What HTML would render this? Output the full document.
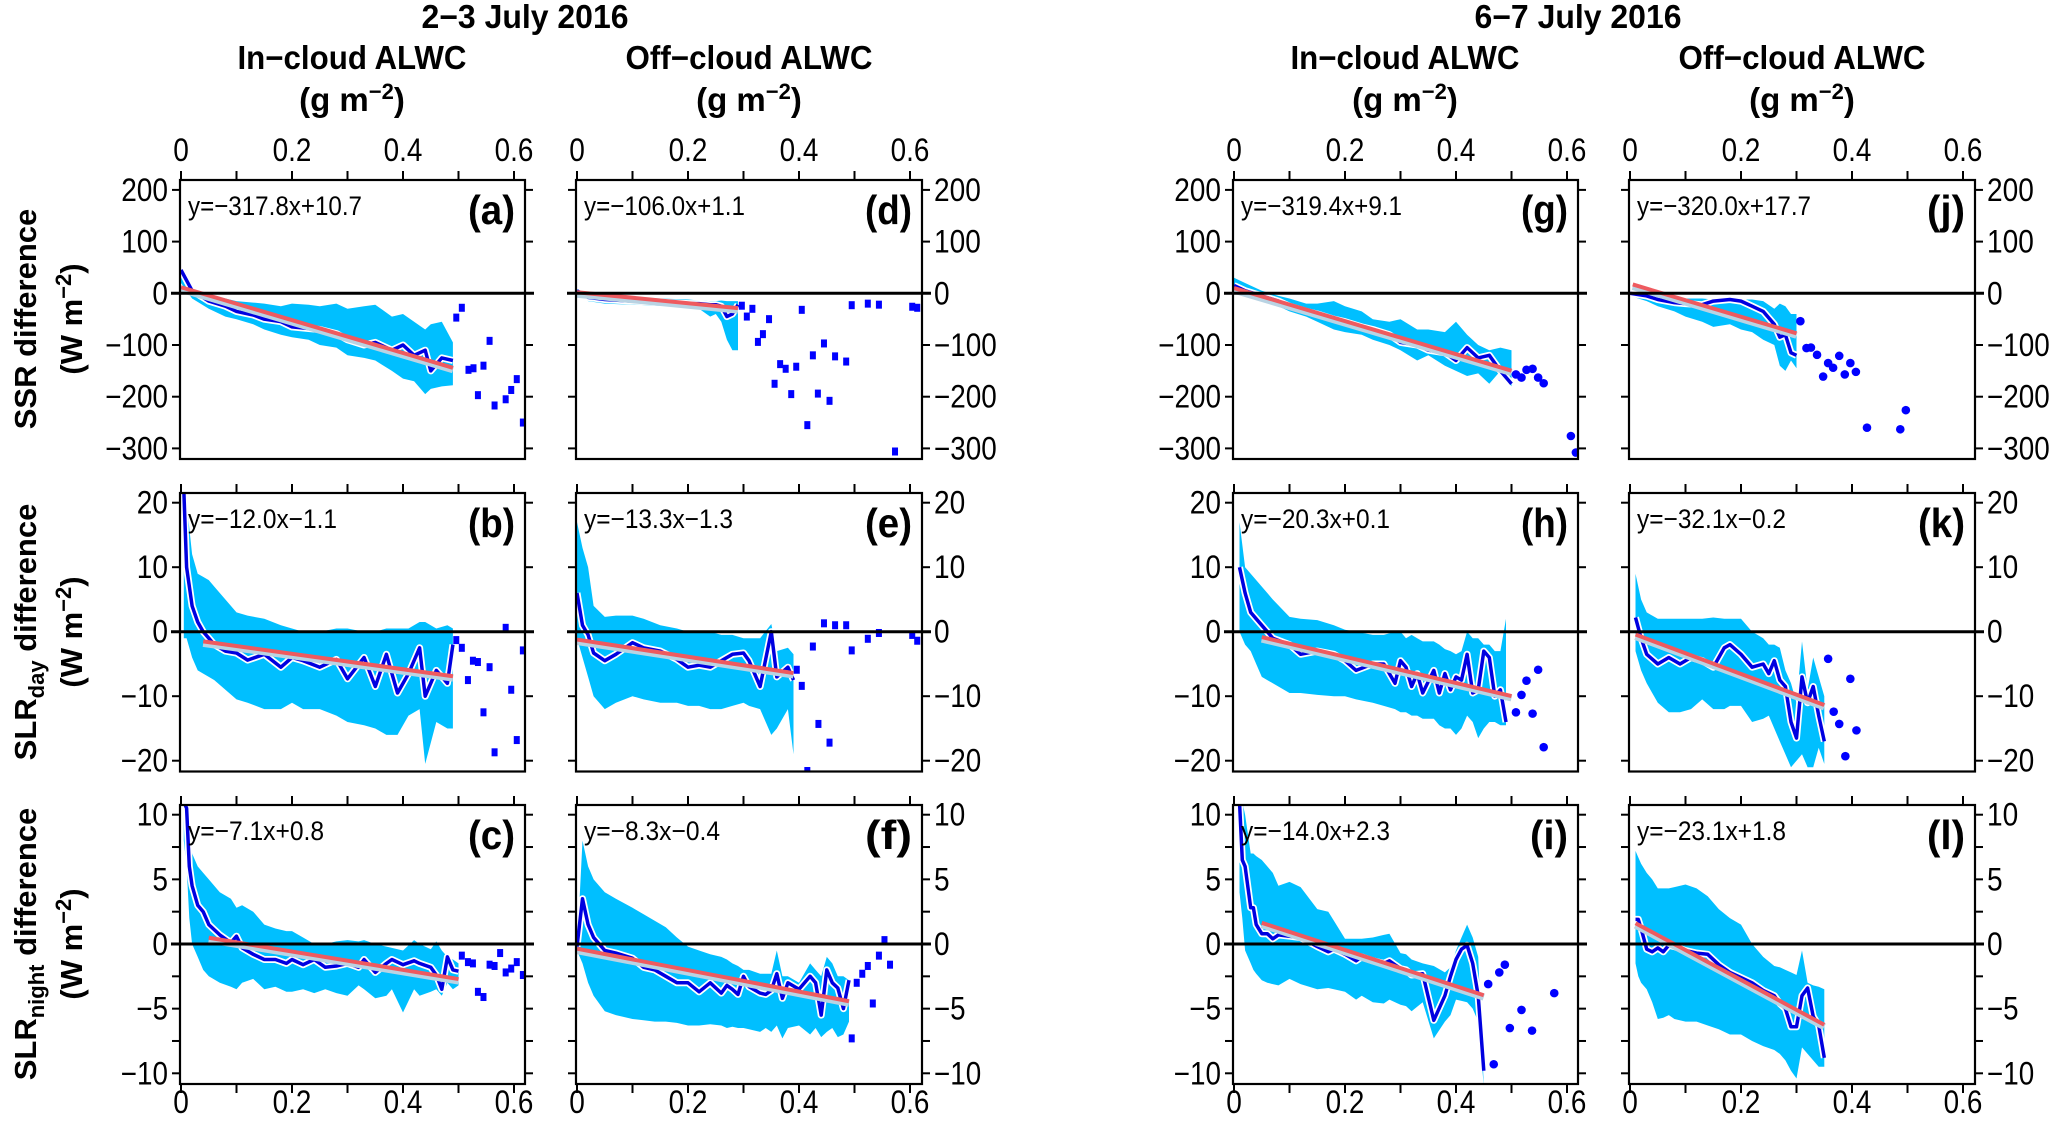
<!DOCTYPE html>
<html><head><meta charset="utf-8"><style>
html,body{margin:0;padding:0;background:#fff;}
svg{display:block;font-family:"Liberation Sans",Arial,sans-serif;}
</style></head><body>
<svg id="fig" width="2067" height="1127" viewBox="0 0 2067 1127" xmlns="http://www.w3.org/2000/svg">
<g font-weight="bold" font-size="33" text-anchor="middle">
<text x="525" y="28" textLength="207" lengthAdjust="spacingAndGlyphs">2−3 July 2016</text>
<text x="1578" y="28" textLength="207" lengthAdjust="spacingAndGlyphs">6−7 July 2016</text>
<text x="352" y="69" textLength="229" lengthAdjust="spacingAndGlyphs">In−cloud ALWC</text>
<text x="749" y="69" textLength="247" lengthAdjust="spacingAndGlyphs">Off−cloud ALWC</text>
<text x="1405" y="69" textLength="229" lengthAdjust="spacingAndGlyphs">In−cloud ALWC</text>
<text x="1802" y="69" textLength="247" lengthAdjust="spacingAndGlyphs">Off−cloud ALWC</text>
<text x="352" y="111">(g m<tspan dy="-12" font-size="22">−2</tspan><tspan dy="12">)</tspan></text>
<text x="749" y="111">(g m<tspan dy="-12" font-size="22">−2</tspan><tspan dy="12">)</tspan></text>
<text x="1405" y="111">(g m<tspan dy="-12" font-size="22">−2</tspan><tspan dy="12">)</tspan></text>
<text x="1802" y="111">(g m<tspan dy="-12" font-size="22">−2</tspan><tspan dy="12">)</tspan></text>
</g>
<g font-weight="bold" font-size="31" text-anchor="middle">
<text transform="translate(36,319) rotate(-90)">SSR difference</text>
<text transform="translate(82,319) rotate(-90)">(W m<tspan dy="-11" font-size="22">−2</tspan><tspan dy="11">)</tspan></text>
<text transform="translate(36,632) rotate(-90)">SLR<tspan dy="8" font-size="22">day</tspan><tspan dy="-8"> difference</tspan></text>
<text transform="translate(82,632) rotate(-90)">(W m<tspan dy="-11" font-size="22">−2</tspan><tspan dy="11">)</tspan></text>
<text transform="translate(36,944) rotate(-90)">SLR<tspan dy="8" font-size="22">night</tspan><tspan dy="-8"> difference</tspan></text>
<text transform="translate(82,944) rotate(-90)">(W m<tspan dy="-11" font-size="22">−2</tspan><tspan dy="11">)</tspan></text>
</g>
</svg>
<script>
// ---- data (x in g m-2, y in W m-2) ----
const a_x=[0,.02,.05,.08,.1,.13,.15,.18,.2,.23,.25,.28,.3,.33,.35,.38,.4,.42,.44,.45,.47,.49];
const a_mean=[45,5,-15,-25,-35,-42,-50,-55,-65,-68,-70,-78,-90,-100,-95,-110,-100,-120,-110,-150,-125,-130];
const a_hi=[45,10,-2,-10,-15,-18,-20,-25,-20,-22,-25,-20,-30,-25,-22,-45,-40,-55,-70,-60,-55,-95];
const a_lo=[20,-10,-30,-45,-50,-60,-70,-80,-85,-90,-100,-105,-120,-125,-130,-150,-165,-170,-195,-185,-180,-178];
const a_px=[.496,.506,.518,.527,.535,.545,.556,.565,.585,.595,.605,.616];
const a_py=[-47,-28,-148,-145,-197,-140,-92,-217,-205,-187,-166,-250];
const a_fit=[-317.8,10.7,0,0.49];

const d_x=[0,.02,.05,.1,.15,.2,.22,.24,.25,.26,.27,.28,.29];
const d_mean=[5,-8,-12,-15,-17,-20,-20,-22,-22,-25,-45,-40,-22];
const d_hi=[8,-3,-5,-8,-10,-12,-14,-15,-15,-14,-15,-15,-15];
const d_lo=[2,-15,-20,-22,-24,-27,-30,-45,-40,-55,-90,-110,-110];
const d_px=[.297,.306,.316,.326,.335,.346,.356,.366,.376,.386,.395,.405,.415,.425,.434,.445,.455,.465,.485,.495,.524,.544,.573,.604,.613];
const d_py=[-24,-45,-30,-94,-79,-50,-175,-137,-146,-195,-142,-32,-255,-120,-194,-97,-208,-122,-132,-23,-20,-22,-306,-26,-28];
const d_fit=[-106.0,1.1,0,0.29];

const g_x=[0,.02,.05,.08,.1,.13,.15,.18,.2,.23,.25,.28,.3,.33,.35,.38,.4,.42,.44,.46,.48,.5];
const g_mean=[15,5,-5,-15,-25,-35,-40,-50,-55,-65,-70,-80,-95,-100,-110,-115,-130,-105,-125,-120,-150,-175];
const g_hi=[30,20,5,-5,-10,-20,-20,-15,-25,-35,-50,-55,-50,-70,-70,-75,-55,-80,-100,-110,-105,-110];
const g_lo=[5,-5,-15,-25,-35,-45,-55,-70,-75,-80,-90,-100,-110,-130,-120,-140,-150,-160,-155,-175,-150,-180];
const g_px=[.508,.518,.527,.538,.548,.558,.607,.616];
const g_py=[-157,-163,-148,-146,-163,-174,-276,-308];
const g_fit=[-319.4,9.1,0,0.5];

const j_x=[0,.03,.05,.08,.1,.13,.15,.18,.2,.22,.24,.26,.27,.28,.29,.3];
const j_mean=[0,-5,-12,-18,-20,-22,-15,-12,-15,-25,-35,-60,-85,-80,-115,-120];
const j_hi=[0,-5,-8,-10,-10,-10,-12,-12,-12,-12,-15,-30,-20,-25,-40,-40];
const j_lo=[-5,-15,-25,-35,-45,-55,-65,-60,-70,-75,-90,-100,-140,-150,-130,-145];
const j_px=[.307,.318,.326,.337,.348,.357,.366,.377,.387,.397,.407,.427,.487,.497];
const j_py=[-54,-106,-105,-119,-161,-135,-144,-121,-157,-135,-152,-260,-263,-226];
const j_fit=[-320.0,17.7,0.005,0.3];

const b_x=[.005,.01,.02,.03,.04,.05,.06,.08,.1,.12,.15,.18,.2,.22,.25,.28,.3,.33,.35,.37,.39,.41,.43,.44,.46,.48,.49];
const b_mean=[22,10,4,1.5,0,-1,-2,-3,-3.3,-4.4,-3.5,-5.5,-4,-4.5,-5.5,-4.3,-7.3,-4,-8.5,-3.5,-9.5,-6.5,-2.5,-10,-6,-8,-2];
const b_hi=[22,20,12,9,8.5,8,7,5,3,2.5,2,1,.5,0,0,.5,.5,0,0,.5,.5,.5,1.5,1.5,.5,1,.5];
const b_lo=[-1,-1,-4,-6,-6.5,-7,-7.5,-9,-10.5,-11,-12,-12,-11,-12,-12,-13,-14,-14.5,-15,-16,-16,-13,-12,-20.5,-14,-15,-15];
const b_px=[.496,.506,.517,.526,.535,.545,.556,.565,.585,.595,.605,.616];
const b_py=[-1.3,-2.5,-7.5,-4.5,-4.7,-12.5,-5.5,-18.7,.6,-9,-16.8,-2.9];
const b_fit=[-12.0,-1.1,0.04,0.49];

const e_x=[0,.01,.02,.03,.05,.07,.1,.12,.15,.18,.2,.22,.24,.26,.28,.3,.31,.33,.35,.36,.38,.39];
const e_mean=[6,1,-.5,-3.3,-4.5,-3.5,-1.7,-2.5,-3,-4.3,-5.5,-5.2,-5.5,-4.5,-3.5,-3.3,-4.5,-8.5,0,-7,-5.5,-7.5];
const e_hi=[17,13,10,4,2.3,2.5,2.5,2,1,.5,0,0,0,-.5,-.5,-1,-1,-1,1.2,-3,-2.5,-3.5];
const e_lo=[-1,-4,-7,-10,-12,-11,-10,-10.5,-11,-11,-11.5,-11.5,-12,-12,-11.5,-11,-11.5,-12,-16,-15,-12,-19];
const e_px=[.396,.405,.415,.425,.435,.445,.455,.465,.485,.495,.524,.544,.604,.613];
const e_py=[-5.9,-8.4,-21.6,-2.3,-14.3,1.3,-17.2,1.0,1.0,-2.9,-1.1,-.2,-.5,-1.4];
const e_fit=[-13.3,-1.3,0,0.39];

const h_x=[.01,.02,.03,.04,.05,.06,.07,.1,.12,.15,.18,.2,.22,.25,.27,.29,.3,.31,.32,.33,.34,.36,.37,.38,.39,.4,.41,.42,.43,.44,.45,.46,.47,.48,.49];
const h_mean=[10,6,3,2,1,0,-1,-2,-3.5,-3,-3.5,-4.5,-6,-5,-5,-8,-4.5,-5.5,-8.5,-6.5,-9.5,-6,-9.5,-6.5,-9,-7,-7.5,-3.5,-9.5,-9,-3,-4,-10,-9,-14];
const h_hi=[17,10,9,8,7,6,5,2.3,2,1.8,1,.3,0,-.5,-.5,0,0,-1,-.5,-1,-1.5,-1.5,-2,-2.7,-3,-3.5,-3,0,-1,-1,-2,-2,-3,-3,2];
const h_lo=[0,-2,-3,-5,-7,-7.5,-8,-9.5,-9.5,-9.8,-10,-10,-10.5,-11,-11.5,-12,-12.5,-12.5,-13,-13,-13.5,-13.5,-14.5,-15,-15,-16,-15,-13,-14,-16.5,-15,-14,-14,-14.5,-14.5];
const h_px=[.508,.518,.527,.538,.548,.558];
const h_py=[-12.5,-9.8,-7.6,-12.7,-5.9,-17.9];
const h_fit=[-20.3,0.1,0.05,0.5];

const k_x=[.01,.02,.03,.05,.07,.09,.11,.13,.15,.17,.18,.2,.22,.24,.25,.26,.27,.28,.29,.3,.31,.32,.33,.34,.35];
const k_mean=[2.2,-1,-3.5,-5,-4,-5,-4,-4.5,-5.5,-2.5,-2,-3.5,-5.5,-5,-6.5,-4.5,-7.5,-8.5,-14,-16.5,-7,-11,-8.5,-13,-17];
const k_hi=[9,5,3,2,2,2,2,2,2.2,2,2,2,0,-1,-2,-2,-2.5,-6,-8,-11,-1.5,-9,-4,-7,-10];
const k_lo=[-3,-6,-8,-11,-12.5,-12.5,-12,-10.5,-12,-12,-11.5,-11.5,-14,-13.5,-13,-15,-17,-19,-21,-20,-19,-21,-21,-18,-20.5];
const k_px=[.357,.367,.377,.388,.397,.408];
const k_py=[-4.2,-12.4,-14.3,-19.3,-7.3,-15.3];
const k_fit=[-32.1,-0.2,0.01,0.35];

const c_x=[.005,.01,.015,.02,.03,.04,.05,.07,.09,.1,.11,.13,.15,.17,.19,.2,.22,.24,.26,.28,.3,.32,.33,.35,.37,.38,.4,.42,.43,.45,.46,.47,.48,.49,.5];
const c_mean=[11,10.5,6,4.5,3,2.5,1.5,.7,.1,.6,-.3,-.8,-1.2,-1.2,-1.5,-1.2,-1.6,-1.2,-1.8,-1.7,-1.5,-1.8,-1.2,-2.2,-1.5,-1.2,-1.6,-1.3,-1.5,-1.8,-2.4,-3.5,-1,-2,-2.1];
const c_hi=[11,11,9,7,6,5.5,5,4,3.5,2.8,3,2.5,1.5,1.2,1,1,.5,0,0,.2,.3,.2,.3,0,-.2,-.3,-.5,.3,0,-.4,.2,-.5,-1,-1.2,-1.5];
const c_lo=[8,6,2,0,-1,-2,-2.5,-3,-3.3,-3.5,-3,-2.7,-3.5,-3.3,-3.7,-3.7,-3.5,-3.8,-3.5,-3.8,-4,-3.2,-3.5,-4.2,-4,-3.5,-5.3,-3.5,-4,-3.7,-3.5,-4,-3,-3.5,-3.2];
const c_px=[.506,.517,.526,.535,.545,.556,.565,.575,.585,.595,.605,.616];
const c_py=[-.9,-1.4,-1.5,-3.7,-4.1,-1.6,-1.7,-.7,-2.2,-1.9,-1.4,-2.4];
const c_fit=[-7.1,0.8,0.05,0.5];

const f_x=[0,.01,.02,.03,.05,.07,.1,.12,.14,.16,.18,.2,.22,.24,.26,.27,.28,.29,.3,.31,.33,.34,.35,.36,.37,.38,.4,.42,.43,.44,.45,.46,.47,.48,.49];
const f_mean=[-.2,3.5,1.5,.5,-.5,-.7,-1.1,-1.8,-2,-2.5,-3,-3,-3.7,-3,-3.8,-3.2,-3.5,-3.9,-2.5,-3.3,-3.8,-3.9,-3.6,-2.3,-4.2,-3,-3.5,-2.5,-3,-5.5,-2,-3,-3.4,-5,-2.8];
const f_hi=[-.5,8,6,5,4,3.5,2.8,2.3,1.8,1.3,.5,-.2,-.5,-.8,-1,-1.2,-1.5,-1.7,-2,-2,-2.3,-2.3,-2.3,-.5,-2.5,-2.5,-3,-1.5,-2,-2.5,-1,-1.5,-2.5,-2.5,-2.8];
const f_lo=[-.5,-1.5,-3,-4,-5.2,-5.5,-5.8,-5.9,-6,-6,-6.1,-6.3,-6.3,-6.2,-6.3,-6.5,-6.4,-6.5,-6.5,-6.6,-6.8,-6.5,-6.8,-6.3,-7.3,-6.5,-6.3,-7,-6.5,-7.2,-6.8,-6.5,-7.2,-7,-6];
const f_px=[.495,.504,.514,.524,.533,.544,.554,.564];
const f_py=[-7.3,-3.0,-2.3,-1.7,-4.6,-.9,.3,-1.6];
const f_fit=[-8.3,-0.4,0,0.49];

const i_x=[.01,.015,.02,.03,.035,.04,.05,.06,.07,.08,.1,.12,.15,.17,.18,.2,.22,.23,.25,.27,.28,.3,.31,.32,.34,.36,.38,.39,.4,.41,.42,.43,.44,.45];
const i_mean=[11,6.5,6,2.8,2.8,1.5,.8,.8,.4,.7,.6,.5,-.2,-.6,-.4,-.8,-1.3,-1,-1.3,-1.5,-1.3,-1.9,-2,-2.4,-2.3,-5.9,-4,-2.5,-1.2,-.4,-.1,-1.5,-4,-9.8];
const i_hi=[11,11,10,7,7,6.8,6.5,6,5.5,4.5,4.8,4.4,2.7,2.5,1.8,.4,.4,.4,.5,.7,.8,-.7,-.8,-1.2,-1.5,-1.7,-2.2,-1.8,-.5,.5,1.5,.5,-1,-11];
const i_lo=[4,2,-.5,-1.5,-2,-2.3,-2.8,-3,-3.1,-3.2,-2.7,-3.1,-3.5,-3.4,-3.5,-3.7,-4.3,-4,-4.5,-4.6,-4.3,-4.7,-4.8,-5.2,-4.5,-7.3,-6,-5.5,-4.3,-4.4,-4.5,-5,-6,-11];
const i_px=[.458,.468,.478,.488,.497,.518,.537,.577];
const i_py=[-3.1,-9.3,-2.2,-1.6,-6.5,-5.1,-6.7,-3.8];
const i_fit=[-14.0,2.3,0.05,0.45];

const l_x=[.01,.015,.02,.03,.04,.05,.06,.07,.08,.1,.12,.14,.16,.18,.2,.22,.24,.26,.27,.28,.29,.3,.31,.32,.33,.34,.35];
const l_mean=[1.9,1.9,1.2,-.4,-.6,-.3,-.6,-.1,-.2,-.5,-.7,-.8,-1.6,-2.2,-2.6,-3,-3.6,-4,-4.6,-5,-6.4,-6.4,-4,-3.4,-5.6,-6.3,-8.8];
const l_hi=[7.2,6.7,6.2,5.5,5,4.3,4.3,4.3,4.4,4.6,4.3,3.7,2.7,2,1.5,0,-1,-1.7,-1.8,-2,-2.2,-2.4,-.5,-3,-3.2,-3.3,-3.5];
const l_lo=[-1.5,-2.5,-3,-3.5,-4.5,-5.8,-5.7,-5.5,-5.8,-6,-6,-6.3,-6.6,-7,-7,-7.5,-7.9,-8.2,-8.5,-9,-9.8,-10.4,-8,-8.5,-9,-9.5,-9.5];
const l_px=[];
const l_py=[];
const l_fit=[-23.1,1.8,0.01,0.35];

const xTicks=[0,0.1,0.2,0.3,0.4,0.5,0.6];
const xTickLabels=["0","0.2","0.4","0.6"];
const ssrTicks=[200,100,0,-100,-200,-300];
const dayTicks=[20,10,0,-10,-20];
const nightTicks=[10,7.5,5,2.5,0,-2.5,-5,-7.5,-10];
const nightLabels=[10,5,0,-5,-10];

// ---- layout ----
const COLS=[{l:180,r:525,x0:181,side:'L'},{l:576,r:922,x0:577,side:'R'},{l:1233,r:1578,x0:1234,side:'L'},{l:1629,r:1975,x0:1630,side:'R'}];
const ROWS=[{t:180,b:459,y0:293.3,k:0.517,ticks:ssrTicks,labels:ssrTicks},
            {t:493,b:771.5,y0:631.7,k:6.45,ticks:dayTicks,labels:dayTicks},
            {t:805,b:1084,y0:944,k:12.93,ticks:nightTicks,labels:nightLabels}];
const XK=555;
const NS='http://www.w3.org/2000/svg';
const svg=document.getElementById('fig');
function mk(tag,attrs,parent){const e=document.createElementNS(NS,tag);for(const k in attrs)e.setAttribute(k,attrs[k]);(parent||svg).appendChild(e);return e;}
function fmt(v){return (v<0?'−':'')+Math.abs(v);}
function tw(s){let w=0;for(const ch of s){w+=(ch==='.'?7.5:(ch==='−'?16:15.6));}return w.toFixed(1);}

const panels=[
 {id:'a',c:0,r:0,x:a_x,m:a_mean,hi:a_hi,lo:a_lo,px:a_px,py:a_py,fit:a_fit,sq:true},
 {id:'b',c:0,r:1,x:b_x,m:b_mean,hi:b_hi,lo:b_lo,px:b_px,py:b_py,fit:b_fit,sq:true},
 {id:'c',c:0,r:2,x:c_x,m:c_mean,hi:c_hi,lo:c_lo,px:c_px,py:c_py,fit:c_fit,sq:true},
 {id:'d',c:1,r:0,x:d_x,m:d_mean,hi:d_hi,lo:d_lo,px:d_px,py:d_py,fit:d_fit,sq:true},
 {id:'e',c:1,r:1,x:e_x,m:e_mean,hi:e_hi,lo:e_lo,px:e_px,py:e_py,fit:e_fit,sq:true},
 {id:'f',c:1,r:2,x:f_x,m:f_mean,hi:f_hi,lo:f_lo,px:f_px,py:f_py,fit:f_fit,sq:true},
 {id:'g',c:2,r:0,x:g_x,m:g_mean,hi:g_hi,lo:g_lo,px:g_px,py:g_py,fit:g_fit,sq:false},
 {id:'h',c:2,r:1,x:h_x,m:h_mean,hi:h_hi,lo:h_lo,px:h_px,py:h_py,fit:h_fit,sq:false},
 {id:'i',c:2,r:2,x:i_x,m:i_mean,hi:i_hi,lo:i_lo,px:i_px,py:i_py,fit:i_fit,sq:false},
 {id:'j',c:3,r:0,x:j_x,m:j_mean,hi:j_hi,lo:j_lo,px:j_px,py:j_py,fit:j_fit,sq:false},
 {id:'k',c:3,r:1,x:k_x,m:k_mean,hi:k_hi,lo:k_lo,px:k_px,py:k_py,fit:k_fit,sq:false},
 {id:'l',c:3,r:2,x:l_x,m:l_mean,hi:l_hi,lo:l_lo,px:l_px,py:l_py,fit:l_fit,sq:false}];

const defs=mk('defs',{});
panels.forEach(p=>{
  const C=COLS[p.c],R=ROWS[p.r];
  const X=v=>C.x0+v*XK, Y=v=>R.y0-v*R.k;
  const g=mk('g',{});
  
  
  const cp=mk('clipPath',{id:'clip-'+p.id},defs);
  mk('rect',{x:C.l,y:R.t,width:C.r-C.l,height:R.b-R.t},cp);
  const inner=mk('g',{'clip-path':'url(#clip-'+p.id+')'},g);
  let d='M'+p.x.map((v,i)=>X(v).toFixed(1)+','+Y(p.hi[i]).toFixed(1)).join('L');
  for(let i=p.x.length-1;i>=0;i--) d+='L'+X(p.x[i]).toFixed(1)+','+Y(p.lo[i]).toFixed(1);
  const band=mk('path',{d:d+'Z',fill:'#00BFFF'},inner);
  
  
  const md='M'+p.x.map((v,i)=>X(v).toFixed(1)+','+Y(p.m[i]).toFixed(1)).join('L');
  mk('path',{d:md,fill:'none',stroke:'#fff','stroke-width':7,'stroke-linejoin':'round'},inner);
  const ml=mk('path',{d:md,fill:'none',stroke:'#0000E0','stroke-width':3.5,'stroke-linejoin':'round'},inner);
  
  
  const f=p.fit,x1=X(f[2]),x2=X(f[3]),y1=Y(f[0]*f[2]+f[1]),y2=Y(f[0]*f[3]+f[1]);
  mk('line',{x1:x1,y1:y1+1.5,x2:x2,y2:y2+1.5,stroke:'#B9D3E3','stroke-width':7},inner);
  const fl=mk('line',{x1:x1,y1:y1-0.5,x2:x2,y2:y2-0.5,stroke:'#EE5A5F','stroke-width':4},inner);
  
  
  p.px.forEach((v,i)=>{
    let s;
    if(p.sq) s=mk('rect',{x:X(v)-3,y:Y(p.py[i])-4,width:6,height:8,fill:'#0000FF'},inner);
    else s=mk('circle',{cx:X(v),cy:Y(p.py[i]),r:4.3,fill:'#0000FF'},inner);
    
    
  });
  const z=mk('line',{x1:C.l-9,x2:C.r+9,y1:Y(0),y2:Y(0),stroke:'#000','stroke-width':3},g);
  
  
  const box=mk('rect',{x:C.l,y:R.t,width:C.r-C.l,height:R.b-R.t,fill:'none',stroke:'#000','stroke-width':2.2},g);
  
  
  R.ticks.forEach(t=>{
    mk('line',{x1:C.l-8,x2:C.l,y1:Y(t),y2:Y(t),stroke:'#000','stroke-width':2},g);
    mk('line',{x1:C.r,x2:C.r+8,y1:Y(t),y2:Y(t),stroke:'#000','stroke-width':2},g);
  });
  R.labels.forEach(t=>{
    const s=fmt(t);
    const lt=C.side==='L'?mk('text',{x:C.l-12,y:Y(t)+11,'text-anchor':'end','font-size':32,textLength:tw(s),lengthAdjust:'spacingAndGlyphs'},g)
                         :mk('text',{x:C.r+12,y:Y(t)+11,'text-anchor':'start','font-size':32,textLength:tw(s),lengthAdjust:'spacingAndGlyphs'},g);
    lt.textContent=s;
    
    
  });
  xTicks.forEach(t=>{
    mk('line',{x1:X(t),x2:X(t),y1:R.t-9,y2:R.t,stroke:'#000','stroke-width':2},g);
    if(p.r===2) mk('line',{x1:X(t),x2:X(t),y1:R.b,y2:R.b+9,stroke:'#000','stroke-width':2},g);
  });
  if(p.r===0||p.r===2){
    xTickLabels.forEach(s=>{
      const lt=mk('text',{x:X(parseFloat(s)),y:p.r===0?161:1113,'text-anchor':'middle','font-size':32,textLength:tw(s),lengthAdjust:'spacingAndGlyphs'},g);
      lt.textContent=s;
      
      
    });
  }
  const eq='y='+(f[0]<0?'−':'')+Math.abs(f[0]).toFixed(1)+'x'+(f[1]<0?'−':'+')+Math.abs(f[1]).toFixed(1);
  const et=mk('text',{x:C.l+8,y:R.t+35,'font-size':27,textLength:(eq.length*12.4).toFixed(0),lengthAdjust:'spacingAndGlyphs'},g);
  et.textContent=eq;
  
  
  const lb=mk('text',{x:C.r-10,y:R.t+44,'text-anchor':'end','font-size':41,'font-weight':'bold',textLength:(p.id==='i'||p.id==='j'||p.id==='l'?38:47),lengthAdjust:'spacingAndGlyphs'},g);
  lb.textContent='('+p.id+')';
  
  
});
</script>
</body></html>
